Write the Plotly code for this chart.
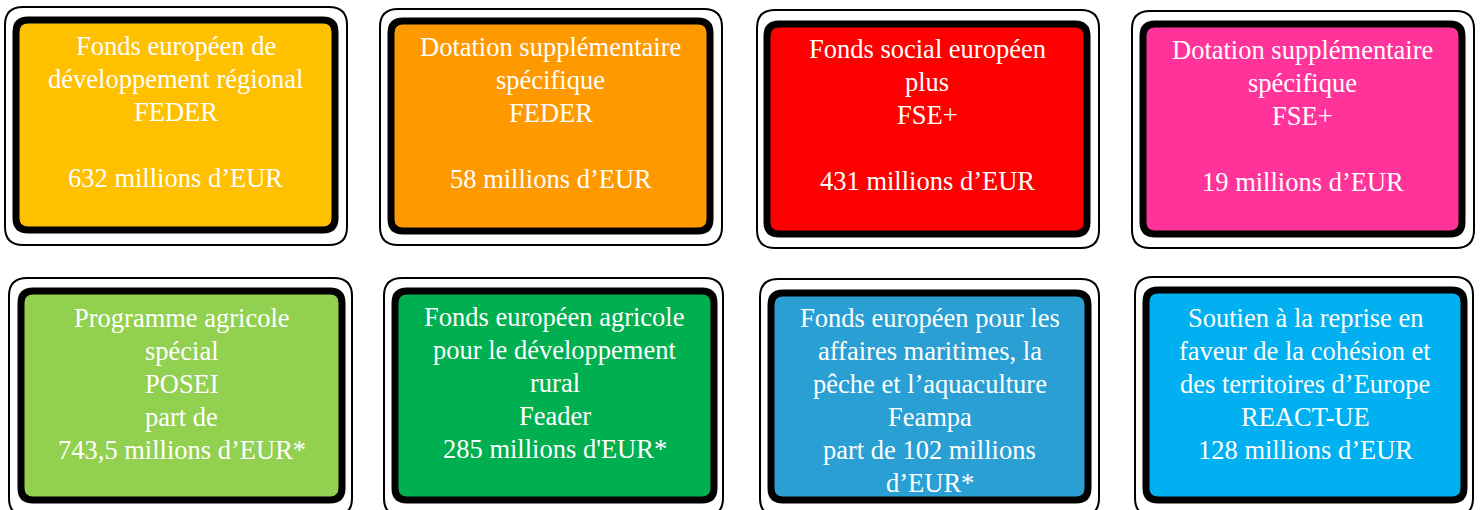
import plotly.graph_objects as go

# ---- content ----
box_labels = [
    ["Fonds européen de", "développement régional", "FEDER", "", "632 millions d’EUR"],
    ["Dotation supplémentaire", "spécifique", "FEDER", "", "58 millions d’EUR"],
    ["Fonds social européen", "plus", "FSE+", "", "431 millions d’EUR"],
    ["Dotation supplémentaire", "spécifique", "FSE+", "", "19 millions d’EUR"],
    ["Programme agricole", "spécial", "POSEI", "part de", "743,5 millions d’EUR*"],
    ["Fonds européen agricole", "pour le développement", "rural", "Feader", "285 millions d'EUR*"],
    ["Fonds européen pour les", "affaires maritimes, la", "pêche et l’aquaculture", "Feampa", "part de 102 millions", "d’EUR*"],
    ["Soutien à la reprise en", "faveur de la cohésion et", "des territoires d’Europe", "REACT-UE", "128 millions d’EUR"],
]
box_colors = ["#FFC000", "#FF9900", "#FF0000", "#FF3399",
              "#92D050", "#00B050", "#2A9FD3", "#00B0F0"]

# ---- layout geometry (pixels) ----
outer_boxes = [(5, 7, 347, 245), (380, 9, 722, 245), (757, 10, 1099, 248), (1132, 11, 1474, 248),
               (9, 278, 352, 516), (384, 278, 723, 516), (760, 279, 1099, 516), (1135, 277, 1473, 516)]
inner_boxes = [(16, 20, 335, 230), (391, 21, 710, 231), (767, 24, 1087, 234), (1143, 24, 1462, 234),
               (21, 291, 342, 500), (395, 291, 714, 500), (771, 293, 1088, 500), (1146, 290, 1464, 500)]
first_line_y = [46, 47, 49, 50, 318, 317, 318, 318]
LINE_H = 33
W, H = 1481, 510


def rrect(x0, y0, x1, y1, r):
    return (f"M {x0+r},{y0} L {x1-r},{y0} Q {x1},{y0} {x1},{y0+r} "
            f"L {x1},{y1-r} Q {x1},{y1} {x1-r},{y1} L {x0+r},{y1} "
            f"Q {x0},{y1} {x0},{y1-r} L {x0},{y0+r} Q {x0},{y0} {x0+r},{y0} Z")


shapes = []
annotations = []
for i, lines in enumerate(box_labels):
    ox0, oy0, ox1, oy1 = outer_boxes[i]
    ix0, iy0, ix1, iy1 = inner_boxes[i]
    shapes.append(dict(type="path", path=rrect(ox0, oy0, ox1, oy1, 18),
                       fillcolor="white", line=dict(color="black", width=2),
                       xref="x", yref="y", layer="below"))
    shapes.append(dict(type="path", path=rrect(ix0, iy0, ix1, iy1, 12),
                       fillcolor=box_colors[i], line=dict(color="black", width=7),
                       xref="x", yref="y", layer="below"))
    cx = (ix0 + ix1) / 2
    for j, t in enumerate(lines):
        if not t:
            continue
        annotations.append(dict(x=cx, y=first_line_y[i] + j * LINE_H, text=t,
                                xref="x", yref="y", showarrow=False,
                                xanchor="center", yanchor="middle",
                                font=dict(family="Liberation Serif", size=26.5, color="white")))

fig = go.Figure()
fig.update_layout(
    width=W, height=H,
    margin=dict(l=0, r=0, t=0, b=0),
    paper_bgcolor="white", plot_bgcolor="white",
    xaxis=dict(range=[0, W], visible=False, fixedrange=True),
    yaxis=dict(range=[H, 0], visible=False, fixedrange=True),
    shapes=shapes, annotations=annotations, showlegend=False,
)
fig.write_html("out.html", config={"displayModeBar": False},
               post_script="document.body.style.margin='0';document.body.style.overflow='hidden';")
